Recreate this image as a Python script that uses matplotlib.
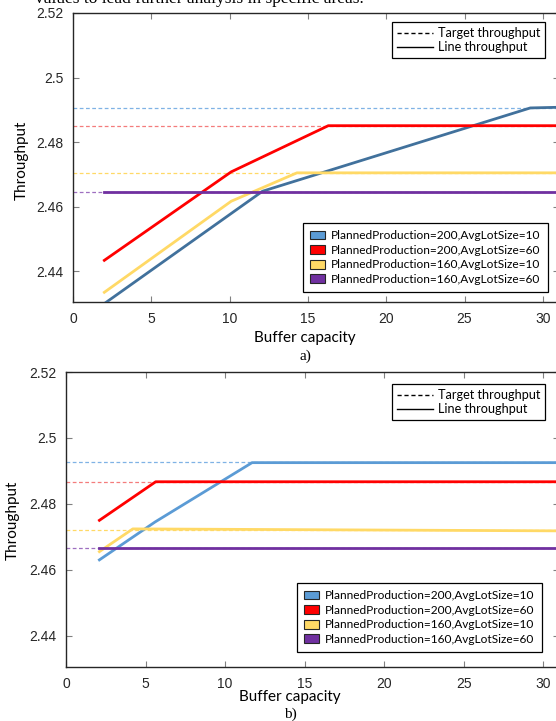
import matplotlib
matplotlib.use("Agg")
from matplotlib import pyplot as plt
from matplotlib.lines import Line2D
from matplotlib.patches import Patch

# series labels and colours
series_labels = ["PlannedProduction=200,AvgLotSize=10",
                 "PlannedProduction=200,AvgLotSize=60",
                 "PlannedProduction=160,AvgLotSize=10",
                 "PlannedProduction=160,AvgLotSize=60"]
legend_colors = ["#5B9BD5", "#FF0000", "#FFD966", "#7030A0"]

# panel a) line throughput (buffer capacity, throughput)
a_x = [[2, 12.1, 29.2, 31], [2, 10.1, 16.3, 31], [2, 10.1, 14.3, 31], [2, 31]]
a_y = [[2.4300, 2.4648, 2.4906, 2.4908],
       [2.4434, 2.4708, 2.4851, 2.4851],
       [2.4335, 2.4617, 2.4705, 2.4705],
       [2.4647, 2.4647]]
a_target = [2.4906, 2.4851, 2.4705, 2.4647]
a_colors = ["#41719C", "#FF0000", "#FFD966", "#7030A0"]

# panel b)
b_x = [[2.1, 5.6, 11.7, 31], [2.1, 5.64, 31], [2.1, 4.2, 31], [2.1, 31]]
b_y = [[2.4630, 2.4745, 2.4925, 2.4925],
       [2.4750, 2.4867, 2.4867],
       [2.4655, 2.4724, 2.4718],
       [2.4666, 2.4666]]
b_target = [2.4927, 2.4867, 2.4722, 2.4666]
b_colors = ["#5B9BD5", "#FF0000", "#FFD966", "#7030A0"]
target_colors = ["#7FB2E5", "#F47C7C", "#FFD966", "#9E6FC0"]

xticks = [0, 5, 10, 15, 20, 25, 30]
yticks = [2.44, 2.46, 2.48, 2.5, 2.52]
ytick_labels = ["2.44", "2.46", "2.48", "2.5", "2.52"]

W, H = 556, 721
fig = plt.figure(figsize=(W / 100, H / 100), dpi=100)

label_font = ["Lato", "DejaVu Sans"]


def px_axes(left, top, right, bottom):
    return fig.add_axes([left / W, 1 - bottom / H, (right - left) / W, (bottom - top) / H])


def draw_panel(ax, xs, ys, targets, colors, leg1_box, leg2_box):
    for t, c in zip(targets, target_colors):
        ax.plot([0, 31], [t, t], color=c, lw=0.9, ls=(0, (3, 2)), zorder=2)
    for x, y, c in zip(xs, ys, colors):
        ax.plot(x, y, color=c, lw=2.0, zorder=3)
    ax.set_xlim(0, 31)
    ax.set_ylim(2.4305, 2.52)
    ax.set_xticks(xticks)
    ax.set_yticks(yticks)
    ax.set_yticklabels(ytick_labels)
    ax.tick_params(direction="in", length=4, color="#808080", labelsize=10,
                   labelcolor="#262626", top=True, right=True, pad=7)
    for s in ax.spines.values():
        s.set_color("#262626")
        s.set_linewidth(1.0)
    for lab in ax.get_xticklabels() + ax.get_yticklabels():
        lab.set_family(["Liberation Sans", "DejaVu Sans"])

    h1 = [Line2D([], [], color="black", ls=(0, (3, 2)), lw=1.0),
          Line2D([], [], color="black", lw=1.0)]
    l1 = ax.legend(h1, ["Target throughput", "Line throughput"],
                   loc="upper right", bbox_to_anchor=leg1_box,
                   bbox_transform=fig.transFigure, fancybox=False, borderaxespad=0,
                   edgecolor="black", framealpha=1, prop={"family": label_font, "size": 9.1},
                   handlelength=2.8, borderpad=0.4, labelspacing=0.15, handletextpad=0.4)
    l1.get_frame().set_linewidth(0.9)
    ax.add_artist(l1)
    h2 = [Patch(facecolor=c, edgecolor="#262626", lw=0.8) for c in legend_colors]
    l2 = ax.legend(h2, series_labels, loc="upper right", bbox_to_anchor=leg2_box,
                   bbox_transform=fig.transFigure, fancybox=False, borderaxespad=0,
                   edgecolor="black", framealpha=1, prop={"family": label_font, "size": 8.6},
                   handlelength=1.3, handleheight=0.75, borderpad=0.6,
                   labelspacing=0.3, handletextpad=0.5)
    l2.get_frame().set_linewidth(0.9)


ax_a = px_axes(73, 13, 558.5, 302)
draw_panel(ax_a, a_x, a_y, a_target, a_colors,
           (545 / W, 1 - 22 / H), (548 / W, 1 - 223 / H))

ax_b = px_axes(66, 372, 559, 667)
draw_panel(ax_b, b_x, b_y, b_target, b_colors,
           (545 / W, 1 - 384 / H), (542 / W, 1 - 583 / H))

fig.text(22 / W, 1 - 160 / H, "Throughput", rotation=90, ha="center", va="center",
         family=label_font, fontsize=11)
fig.text(13 / W, 1 - 520 / H, "Throughput", rotation=90, ha="center", va="center",
         family=label_font, fontsize=11)
fig.text(305 / W, 1 - 338 / H, "Buffer capacity", ha="center", va="center",
         family=label_font, fontsize=11)
fig.text(290 / W, 1 - 697 / H, "Buffer capacity", ha="center", va="center",
         family=label_font, fontsize=11)
fig.text(305 / W, 1 - 356 / H, "a)", ha="center", va="center",
         family=["Liberation Serif", "DejaVu Serif"], fontsize=11)
fig.text(290 / W, 1 - 714 / H, "b)", ha="center", va="center",
         family=["Liberation Serif", "DejaVu Serif"], fontsize=11)
# cut-off sentence from the page above the figure
fig.text(35 / W, 1 - 3 / H, "values to lead further analysis in specific areas.",
         ha="left", va="baseline", family=["Liberation Serif", "DejaVu Serif"], fontsize=12.5)

fig.savefig("out.png", dpi=100)
